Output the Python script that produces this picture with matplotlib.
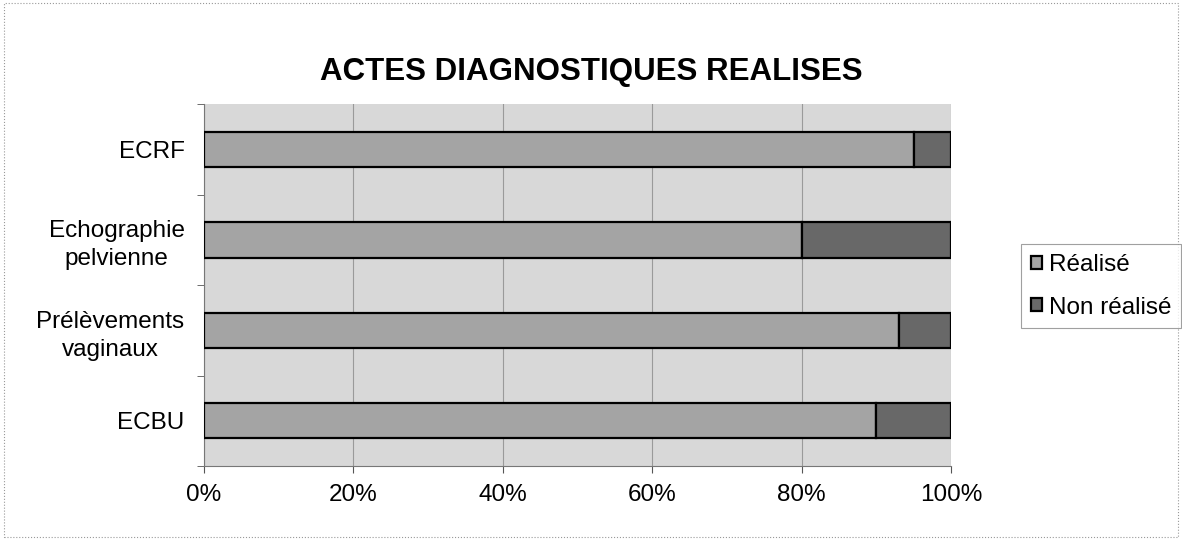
import matplotlib
matplotlib.use("Agg")
import matplotlib.pyplot as plt
from matplotlib.ticker import FixedLocator, PercentFormatter
from matplotlib.patches import Rectangle

plt.rcParams['font.family'] = ['Liberation Sans', 'DejaVu Sans']

categories = ["ECBU", "Prélèvements\nvaginaux", "Echographie\npelvienne", "ECRF"]
realise = [90, 93, 80, 95]
non_realise = [10, 7, 20, 5]
xticks = [0, 20, 40, 60, 80, 100]

fig = plt.figure(figsize=(11.82, 5.4), dpi=100)
ax = fig.add_axes([0.1726, 0.137, 0.632, 0.670])
ax.set_facecolor('#d8d8d8')

ypos = list(range(len(categories)))
ax.barh(ypos, realise, height=0.39, color='#a4a4a4', edgecolor='black', linewidth=1.6, label='Réalisé', zorder=3)
ax.barh(ypos, non_realise, left=realise, height=0.39, color='#686868', edgecolor='black', linewidth=1.6, label='Non réalisé', zorder=3)

ax.set_xlim(0, 100)
ax.set_ylim(-0.5, 3.5)
ax.set_xticks(xticks)
ax.xaxis.set_major_formatter(PercentFormatter(decimals=0))
ax.grid(axis='x', color='#9a9a9a', linewidth=0.8, zorder=1)
ax.set_yticks(ypos)
ax.set_yticklabels(categories, ha='right', multialignment='center', linespacing=1.35)
ax.yaxis.set_minor_locator(FixedLocator([-0.5, 0.5, 1.5, 2.5, 3.5]))
ax.tick_params(axis='y', which='major', length=0, pad=14, labelsize=17.5)
ax.tick_params(axis='y', which='minor', length=5, color='#555555')
ax.tick_params(axis='x', which='major', length=5, color='#555555', labelsize=17.5, pad=8)
for s in ['top', 'right']:
    ax.spines[s].set_visible(False)
for s in ['left', 'bottom']:
    ax.spines[s].set_color('#777777')

fig.text(0.5, 0.866, "ACTES DIAGNOSTIQUES REALISES", ha='center', va='center',
         fontsize=22.5, fontweight='bold')

leg = fig.legend(loc='center left', bbox_to_anchor=(0.864, 0.470), fontsize=17.5,
                 handlelength=0.45, handleheight=0.45, handletextpad=0.3,
                 frameon=True, fancybox=False, borderpad=0.4, labelspacing=0.85,
                 borderaxespad=0)
leg.get_frame().set_edgecolor('#888888')
leg.get_frame().set_linewidth(0.8)

fig.patches.append(Rectangle((0.003, 0.005), 0.994, 0.99, transform=fig.transFigure,
                             fill=False, edgecolor='#999999', linewidth=0.8, linestyle=':'))

fig.savefig("out.png", dpi=100)
